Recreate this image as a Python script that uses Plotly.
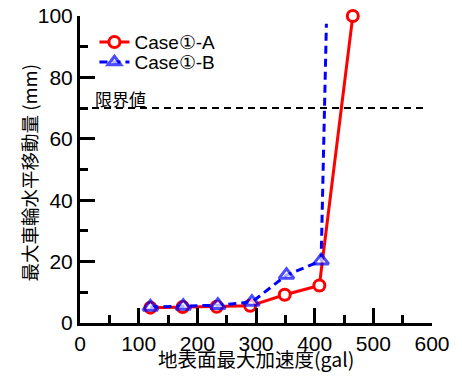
import plotly.graph_objects as go

# Case①-A
a_x = [120, 175, 233, 290, 349, 408, 465]
a_y = [5.0, 5.2, 5.3, 5.6, 9.2, 12.2, 100]
# Case①-B
b_x = [120, 176, 235, 293, 352, 411, 420]
b_y = [5.2, 5.5, 5.8, 6.8, 15.6, 20.3, 97.5]
b_marker_size = [13, 13, 13, 13, 13, 13, 0]
limit_value = 70
limit_label = "限界値"
x_title = "地表面最大加速度(gal)"
y_title = "最大車輪水平移動量 (mm)"

jp = "Noto Sans CJK JP"
latin = "Liberation Sans, Arial"

fig = go.Figure()
fig.add_trace(go.Scatter(
    x=a_x, y=a_y, mode="lines+markers", name="Case①-A",
    line=dict(color="#ff0000", width=3),
    marker=dict(symbol="circle", size=11, color="white", line=dict(width=3, color="#ff0000")),
    cliponaxis=False, legend="legend",
))
fig.add_trace(go.Scatter(
    x=b_x, y=b_y, mode="lines+markers", name="Case①-B",
    line=dict(color="#0000ff", width=3, dash="8px,5px"),
    marker=dict(symbol="triangle-up", size=b_marker_size, color="white", line=dict(width=3, color="#0000ff")),
    cliponaxis=False, legend="legend2",
))
fig.add_shape(type="line", x0=0, x1=592, y0=limit_value, y1=limit_value,
              line=dict(color="black", width=2, dash="7px,5px"), layer="below")
fig.add_annotation(x=22, y=limit_value, text=limit_label, showarrow=False,
                   xanchor="left", yanchor="bottom", yshift=-5,
                   font=dict(family=jp, size=17, color="black"))
fig.add_annotation(xref="paper", yref="paper", x=0.5, y=0, text=x_title, showarrow=False,
                   xanchor="center", yanchor="top", yshift=-19,
                   font=dict(family=jp, size=19.5, color="black"))
fig.add_annotation(xref="paper", yref="paper", x=0, y=0.5, text=y_title, showarrow=False,
                   textangle=-90, xanchor="center", yanchor="middle", xshift=-52, yshift=-4,
                   font=dict(family=jp, size=18.5, color="black"))

axis_common = dict(
    showgrid=False, zeroline=False, showline=True, linecolor="black", linewidth=3,
    ticks="inside", ticklen=15, tickwidth=3, tickcolor="black",
    tickfont=dict(family=latin, size=21, color="black"),
    mirror=False, automargin=False, ticklabeloverflow="allow",
)
fig.update_xaxes(range=[0, 600], dtick=100,
                 minor=dict(ticks="inside", ticklen=8, tickwidth=3, tickcolor="black", dtick=50),
                 **axis_common)
fig.update_yaxes(range=[0, 100], dtick=20,
                 minor=dict(ticks="inside", ticklen=8, tickwidth=3, tickcolor="black", dtick=10),
                 **axis_common)
leg = dict(xanchor="left", yanchor="middle", bgcolor="rgba(0,0,0,0)",
           font=dict(family=latin, size=19, color="black"), itemwidth=30)
fig.update_layout(
    width=454, height=368,
    margin=dict(l=72, r=30, t=8, b=53),
    plot_bgcolor="white", paper_bgcolor="white",
    showlegend=True,
    legend=dict(x=0.041, y=0.915, **leg),
    legend2=dict(x=0.041, y=0.85, **leg),
)
fig.write_html("out.html")
